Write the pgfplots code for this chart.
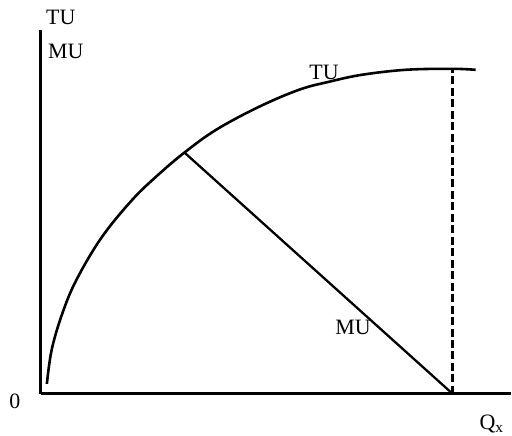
\documentclass[border=0pt]{standalone}
\usepackage{pgfplots}
\pgfplotsset{compat=1.18}
\usepackage{fontspec}
\setmainfont{Liberation Serif}

\begin{document}
\begin{tikzpicture}[lbl/.style={font=\fontsize{22}{26}\selectfont, inner sep=0pt}]
  \begin{axis}[
    scale only axis,
    width=471pt, height=365pt,
    xmin=0, xmax=471, ymin=0, ymax=365,
    axis lines=left,
    separate axis lines,
    x axis line style={-, line width=3pt},
    y axis line style={-, line width=3pt},
    ticks=none,
    clip=false,
  ]
    % total utility
    \addplot[black, line width=2.6pt, smooth, tension=0.6] coordinates {
      (6,10) (11,45) (22,82) (36,115) (61,157) (92,195) (118,220) (144,242)
      (176,265) (219,288) (259,305) (289,313) (322,320) (366,325)
      (412,326) (436,325)
    };
    % marginal utility
    \addplot[black, line width=2.3pt] coordinates {(144,242) (413,0)};
    % max of TU
    \addplot[black, line width=3pt, dash pattern=on 8pt off 3.5pt] coordinates {(413,0) (413,326)};

    \node[lbl] at (axis cs:20,378) {TU};
    \node[lbl] at (axis cs:25,343) {MU};
    \node[lbl] at (axis cs:-26,-7) {0};
    \node[lbl] at (axis cs:452,-30) {Q\textsubscript{x}};
    \node[lbl] at (axis cs:284,322) {TU};
    \node[lbl] at (axis cs:313,67) {MU};

    \path[use as bounding box] (axis cs:-41,-42) rectangle (axis cs:471,395);
  \end{axis}
\end{tikzpicture}
\end{document}
